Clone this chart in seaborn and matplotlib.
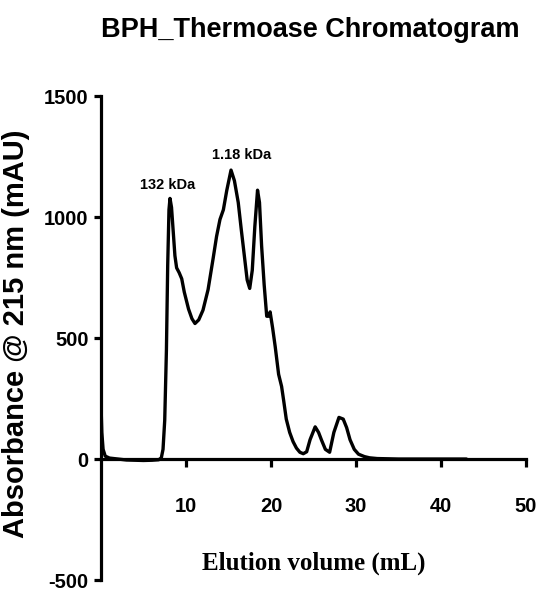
import matplotlib
matplotlib.use("Agg")
import matplotlib.pyplot as plt
import seaborn as sns
import pandas as pd

# ---- data ----
elution_ml = [0.0, 0.1, 0.25, 0.5, 1.0, 2.0, 3.0, 4.0, 5.0, 6.0, 6.8, 7.1, 7.3, 7.5, 7.7,
              7.85, 8.0, 8.12, 8.3, 8.5, 8.7, 8.9, 9.2, 9.5, 9.8, 10.3, 10.7, 11.06, 11.5,
              12.0, 12.6, 13.2, 13.6, 14.0, 14.4, 14.8, 15.3, 15.7, 16.15, 16.5, 16.9, 17.2,
              17.5, 17.8, 18.1, 18.42, 18.65, 18.9, 19.2, 19.5, 19.7, 19.9, 20.2, 20.5, 20.9,
              21.25, 21.5, 21.8, 22.2, 22.6, 23.0, 23.4, 23.8, 24.2, 24.6, 25.2, 25.6, 25.95,
              26.4, 26.9, 27.4, 28.0, 28.5, 28.9, 29.3, 29.8, 30.3, 31.0, 31.6, 32.5, 35.0,
              38.0, 43.0]
absorbance_mau = [230, 110, 40, 12, 4, 0, -4, -5, -6, -5, -3, 5, 40, 160, 450,
                  800, 1030, 1077, 1040, 940, 840, 790, 770, 745, 690, 620, 580, 560, 575,
                  615, 700, 830, 920, 990, 1030, 1110, 1194, 1150, 1060, 950, 830, 740,
                  705, 780, 960, 1111, 1060, 880, 720, 590, 590, 608, 540, 464, 350,
                  300, 240, 165, 110, 72, 45, 28, 22, 30, 80, 133, 110, 78,
                  40, 28, 110, 172, 165, 130, 80, 40, 20, 10, 5, 2, 0,
                  0, 0]
peak_labels = ["132 kDa", "1.18 kDa"]
peak_label_x = [7.8, 16.55]
peak_label_y = [1132, 1256]
x_ticks = [10, 20, 30, 40, 50]
y_ticks = [-500, 0, 500, 1000, 1500]

df = pd.DataFrame({"Elution volume (mL)": elution_ml, "Absorbance": absorbance_mau})

sns.set_style("ticks")
plt.rcParams["font.family"] = ["Liberation Sans", "DejaVu Sans"]
plt.rcParams["axes.unicode_minus"] = False
plt.rcParams["text.color"] = "black"
plt.rcParams["xtick.color"] = "black"
plt.rcParams["ytick.color"] = "black"
plt.rcParams["xtick.labelcolor"] = "black"
plt.rcParams["ytick.labelcolor"] = "black"

fig = plt.figure(figsize=(5.42, 6.16), dpi=100)
ax = fig.add_axes([0.1863, 0.0584, 0.7841, 0.7857])

sns.lineplot(data=df, x="Elution volume (mL)", y="Absorbance", ax=ax,
             color="black", linewidth=2.4, sort=False)

ax.set_xlim(0, 50)
ax.set_ylim(-500, 1500)
ax.set_xticks(x_ticks)
ax.set_yticks(y_ticks)

for s in ["top", "right"]:
    ax.spines[s].set_visible(False)
ax.spines["bottom"].set_position(("data", 0))
for s in ["left", "bottom"]:
    ax.spines[s].set_linewidth(2.3)
    ax.spines[s].set_color("black")

ax.tick_params(axis="y", direction="out", length=5, width=2.3, pad=4,
               labelsize=14.5, colors="black")
ax.tick_params(axis="x", direction="out", length=6, width=2.3, pad=21,
               labelsize=14.5, colors="black")
for lab in ax.get_xticklabels() + ax.get_yticklabels():
    lab.set_fontweight("bold")

ax.set_xlabel("")
ax.set_ylabel("")

for t, xx, yy in zip(peak_labels, peak_label_x, peak_label_y):
    ax.text(xx, yy, t, ha="center", va="center", fontsize=10.5, fontweight="bold",
            color="black")

fig.text(0.578, 0.0860, "Elution volume (mL)", ha="center", va="center",
         fontsize=18, fontweight="bold", family=["Liberation Serif", "DejaVu Serif"],
         color="black")
fig.text(0.030, 0.458, "Absorbance @ 215 nm (mAU)", rotation=90, ha="center",
         va="center", fontsize=21, fontweight="bold", color="black")
fig.text(0.573, 0.951, "BPH_Thermoase Chromatogram", ha="center", va="center",
         fontsize=19.5, fontweight="bold", color="black")

fig.savefig("out.png", dpi=100, facecolor="white")
